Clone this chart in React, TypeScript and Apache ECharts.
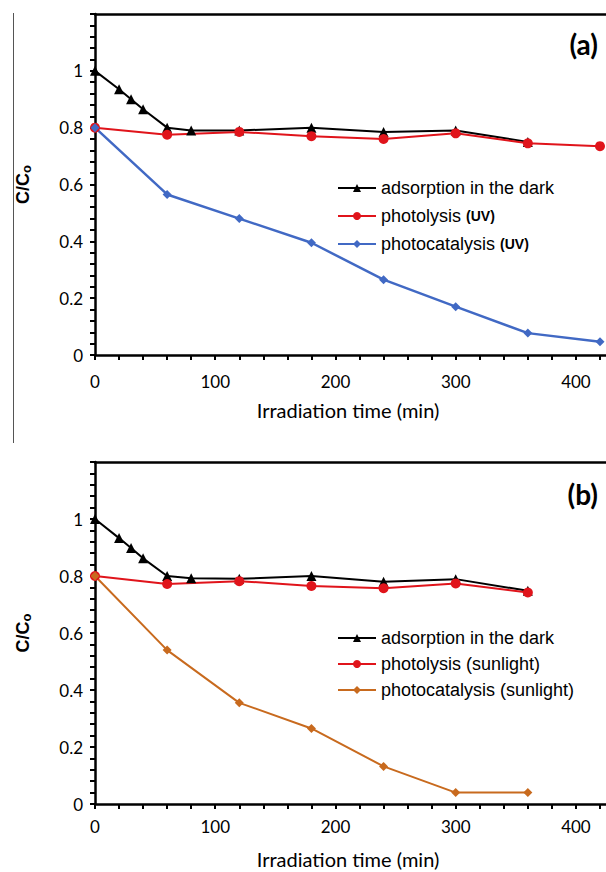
import React, { useEffect, useRef } from 'react';
import * as echarts from 'echarts';

// ---- data ----
const darkTimes = [0, 20, 30, 40, 60, 80, 120, 180, 240, 300, 360];
const darkUV = [1.0, 0.935, 0.9, 0.865, 0.8, 0.79, 0.79, 0.8, 0.785, 0.79, 0.75];
const darkSun = [1.0, 0.933, 0.898, 0.862, 0.8, 0.792, 0.79, 0.8, 0.78, 0.789, 0.748];

const uvTimes = [0, 60, 120, 180, 240, 300, 360, 420];
const photolysisUV = [0.8, 0.775, 0.785, 0.77, 0.76, 0.78, 0.745, 0.735];
const photocatalysisUV = [0.8, 0.565, 0.48, 0.395, 0.265, 0.17, 0.077, 0.047];

const sunTimes = [0, 60, 120, 180, 240, 300, 360];
const photolysisSun = [0.8, 0.772, 0.782, 0.765, 0.757, 0.774, 0.742];
const photocatalysisSun = [0.8, 0.54, 0.355, 0.265, 0.132, 0.04, 0.04];

const xTickLabels = [0, 100, 200, 300, 400];
const xTickMarks = [0, 20, 40, 60, 80, 100, 120, 140, 160, 180, 200, 220, 240, 260, 280, 300, 320, 340, 360, 380, 400, 420];
const yTickLabels = ['0', '0.2', '0.4', '0.6', '0.8', '1'];

const seriesNames = {
  dark: 'adsorption in the dark',
  photoUV: 'photolysis (UV)',
  catUV: 'photocatalysis (UV)',
  photoSun: 'photolysis (sunlight)',
  catSun: 'photocatalysis (sunlight)',
};
const panelLabels = ['(a)', '(b)'];
const xTitle = 'Irradiation time (min)';

const zip = (xs: number[], ys: number[]) => xs.map((x, i) => [x, ys[i]]);

const BLACK = '#000000';
const RED = '#E0141B';
const BLUE = '#4169C4';
const ORANGE = '#C86A1E';
const X_MAX = 425;

function xAxis(gridIndex: number, margin: number) {
  return {
    type: 'value',
    gridIndex,
    min: 0,
    max: X_MAX,
    axisLine: { show: true, onZero: false, lineStyle: { color: BLACK, width: 2.5 } },
    axisTick: { show: true, length: 5, customValues: xTickMarks, lineStyle: { color: BLACK, width: 2 } },
    splitLine: { show: false },
    axisLabel: {
      margin,
      color: BLACK,
      fontFamily: 'Lato',
      fontSize: 17,
      customValues: xTickLabels,
      formatter: (v: number) => String(Math.round(v)),
    },
  };
}

function yAxis(gridIndex: number) {
  return {
    type: 'value',
    gridIndex,
    min: 0,
    max: 1.2,
    interval: 0.2,
    name: '{c|C/C}{s|o}',
    nameLocation: 'middle',
    nameRotate: 90,
    nameGap: 62,
    nameTextStyle: {
      rich: {
        c: { fontFamily: 'Liberation Sans', fontWeight: 'bold', fontSize: 18, color: BLACK },
        s: { fontFamily: 'Liberation Sans', fontWeight: 'bold', fontSize: 13, color: BLACK, verticalAlign: 'bottom', padding: [8, 0, 0, 0] },
      },
    },
    axisLine: { show: true, onZero: false, lineStyle: { color: BLACK, width: 2.5 } },
    axisTick: { show: true, length: 5, lineStyle: { color: BLACK, width: 2 } },
    minorTick: { show: true, splitNumber: 5, length: 5, lineStyle: { color: BLACK, width: 2 } },
    splitLine: { show: false },
    axisLabel: {
      margin: 12,
      color: BLACK,
      fontFamily: 'Lato',
      fontSize: 17,
      formatter: (v: number) => {
        const s = String(Math.round(v * 10) / 10);
        return yTickLabels.includes(s) ? s : '';
      },
    },
  };
}

// top frame line of each panel, drawn as an axis with only its line
function topAxis(gridIndex: number) {
  return {
    type: 'value',
    gridIndex,
    position: 'top',
    min: 0,
    max: X_MAX,
    axisLine: { show: true, onZero: false, lineStyle: { color: BLACK, width: 2.5 } },
    axisTick: { show: false },
    axisLabel: { show: false },
    splitLine: { show: false },
  };
}

function legend(top: number, gap: number, names: string[]) {
  return {
    orient: 'vertical',
    left: 332,
    top,
    itemWidth: 38,
    itemHeight: 10,
    itemGap: gap,
    selectedMode: false,
    data: names,
    textStyle: {
      fontFamily: 'Liberation Sans',
      fontSize: 18,
      color: BLACK,
      rich: {
        b: { fontFamily: 'Liberation Sans', fontWeight: 'bold', fontSize: 14, color: BLACK },
      },
    },
    formatter: (name: string) =>
      name.endsWith('(UV)') ? `${name.slice(0, -4)}{b|(UV)}` : name,
  };
}

function line(name: string, xi: number, data: number[][], color: string, symbol: string, size: number, width: number) {
  return {
    type: 'line',
    name,
    xAxisIndex: xi,
    yAxisIndex: xi,
    data,
    symbol,
    symbolSize: size,
    showAllSymbol: true,
    clip: false,
    lineStyle: { color, width },
    itemStyle: { color },
    emphasis: { disabled: true },
  };
}

export default function App() {
  const ref = useRef<HTMLDivElement>(null);
  useEffect(() => {
    if (!ref.current) return;
    const chart = echarts.init(ref.current, undefined, { renderer: 'svg' });
    chart.setOption({
      animation: false,
      backgroundColor: '#ffffff',
      grid: [
        { left: 95, top: 14, right: 0, height: 341 },
        { left: 95, top: 462, right: 0, height: 342 },
      ],
      xAxis: [xAxis(0, 18), xAxis(1, 14), topAxis(0), topAxis(1)],
      yAxis: [yAxis(0), yAxis(1)],
      legend: [
        legend(174, 10, [seriesNames.dark, seriesNames.photoUV, seriesNames.catUV]),
        legend(624, 8, [seriesNames.dark, seriesNames.photoSun, seriesNames.catSun]),
      ],
      series: [
        line(seriesNames.dark, 0, zip(darkTimes, darkUV), BLACK, 'triangle', 10, 2),
        line(seriesNames.photoUV, 0, zip(uvTimes, photolysisUV), RED, 'circle', 10, 2),
        line(seriesNames.catUV, 0, zip(uvTimes, photocatalysisUV), BLUE, 'diamond', 9, 2.5),
        line(seriesNames.dark, 1, zip(darkTimes, darkSun), BLACK, 'triangle', 10, 2),
        line(seriesNames.photoSun, 1, zip(sunTimes, photolysisSun), RED, 'circle', 10, 2),
        line(seriesNames.catSun, 1, zip(sunTimes, photocatalysisSun), ORANGE, 'diamond', 9, 2),
      ],
      graphic: [
        { type: 'line', shape: { x1: 13.5, y1: 13, x2: 13.5, y2: 443 }, style: { stroke: '#555555', lineWidth: 1 } },
        { type: 'text', x: 598, y: 44, style: { text: panelLabels[0], textAlign: 'right', textVerticalAlign: 'middle', align: 'right', verticalAlign: 'middle', fontFamily: 'Lato', fontWeight: 'bold', fontSize: 28, fill: BLACK } },
        { type: 'text', x: 598, y: 494, style: { text: panelLabels[1], textAlign: 'right', textVerticalAlign: 'middle', align: 'right', verticalAlign: 'middle', fontFamily: 'Lato', fontWeight: 'bold', fontSize: 28, fill: BLACK } },
        { type: 'text', x: 348, y: 410, style: { text: xTitle, textAlign: 'center', textVerticalAlign: 'middle', align: 'center', verticalAlign: 'middle', fontFamily: 'Lato', fontSize: 20, fill: BLACK } },
        { type: 'text', x: 348, y: 859, style: { text: xTitle, textAlign: 'center', textVerticalAlign: 'middle', align: 'center', verticalAlign: 'middle', fontFamily: 'Lato', fontSize: 20, fill: BLACK } },
      ],
    });
    return () => chart.dispose();
  }, []);
  return <div ref={ref} style={{ position: 'absolute', left: 0, top: 0, width: 606, height: 872, background: '#ffffff' }} />;
}
